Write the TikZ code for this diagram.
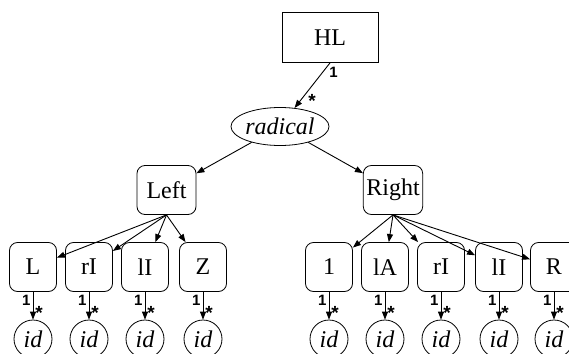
\documentclass[tikz,border=0pt]{standalone}
\usepackage{fontspec}
\setmainfont{Liberation Serif}
\newfontfamily\multfont{Liberation Sans}
\usetikzlibrary{shapes.geometric,arrows.meta}
\begin{document}
\begin{tikzpicture}[x=0.5pt,y=-0.5pt,
  font=\fontsize{12}{14}\selectfont,
  top/.style={draw, minimum width=48pt, minimum height=25pt},
  elem/.style={draw, rounded corners=4pt, minimum width=23.5pt, minimum height=24.5pt, inner xsep=1.5pt},
  side/.style={elem, minimum width=29.5pt},
  sel/.style={draw, ellipse, minimum width=49pt, minimum height=19pt, inner sep=0pt},
  leaf/.style={draw, circle, minimum size=19pt, inner sep=0pt, font=\fontsize{12}{14}\selectfont\itshape},
  edge/.style={-{Triangle[length=4pt,width=3pt]}, line width=0.45pt},
  mult/.style={font=\multfont\fontsize{7.5}{8}\selectfont\bfseries, inner sep=1pt},
  many/.style={font=\multfont\fontsize{9.5}{10}\selectfont\bfseries, inner sep=1pt}]
\useasboundingbox (0,0) rectangle (569,354);
\clip (0,0) rectangle (569,354);
\node[top] (hl) at (330,37.5) {HL};
\node[sel] (rad) at (280,126.5) {\itshape radical};
\node[side] (left) at (166.5,190) {Left};
\node[side] (right) at (393,190) {Right};
% left part
\node[elem] (l1) at (33,267) {L};
\node[elem] (l2) at (89,267) {rI};
\node[elem] (l3) at (145,267) {lI};
\node[elem] (l4) at (203,267) {Z};
% right part
\node[elem] (r1) at (329,267) {1};
\node[elem] (r2) at (385,267) {lA};
\node[elem] (r3) at (441,267) {rI};
\node[elem] (r4) at (499,267) {lI};
\node[elem] (r5) at (554,267) {R};
% ids
\node[leaf] (i1) at (33,339) {id};
\node[leaf] (i2) at (89,339) {id};
\node[leaf] (i3) at (145,339) {id};
\node[leaf] (i4) at (203,339) {id};
\node[leaf] (i5) at (329,339) {id};
\node[leaf] (i6) at (385,339) {id};
\node[leaf] (i7) at (441,339) {id};
\node[leaf] (i8) at (499,339) {id};
\node[leaf] (i9) at (554,339) {id};
\draw[edge] (hl.south) -- node[mult, pos=0.2, right=2pt] {1} node[many, pos=0.85, right=3pt] {*} (rad);
\draw[edge] (rad) -- (left);
\draw[edge] (rad) -- (right);
\draw[edge] (left.south) -- (l1);
\draw[edge] (left.south) -- (l2);
\draw[edge] (left.south) -- (l3);
\draw[edge] (left.south) -- (l4);
\draw[edge] (right.south) -- (r1);
\draw[edge] (right.south) -- (r2);
\draw[edge] (right.south) -- (r3);
\draw[edge] (right.south) -- (r4);
\draw[edge] (right.south) -- (r5);
\foreach \b/\i in {l1/i1,l2/i2,l3/i3,l4/i4,r1/i5,r2/i6,r3/i7,r4/i8,r5/i9}
  \draw[edge] (\b) -- node[mult, pos=0.3, left] {1} node[many, pos=0.75, right] {*} (\i);
\end{tikzpicture}
\end{document}
